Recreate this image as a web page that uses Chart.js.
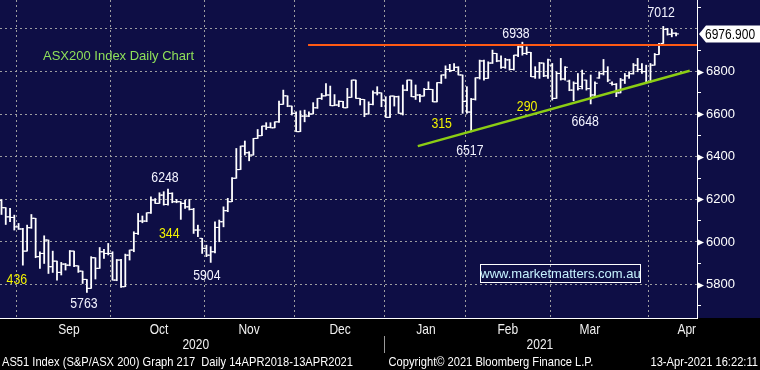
<!DOCTYPE html>
<html><head><meta charset="utf-8">
<script src="https://cdn.jsdelivr.net/npm/chart.js@4.4.1/dist/chart.umd.min.js"></script>
<style>
html,body{margin:0;padding:0;background:#000;}
#wrap{position:relative;width:760px;height:370px;}
</style></head><body>
<div id="wrap"><canvas id="c" width="760" height="370"></canvas></div>
<script>
// ---- data (ASX200 daily OHLC, 26 Aug 2020 .. 13 Apr 2021, trading-day index) ----
const barOpen = [
6195,6161,6118,6115,6071,6061,5957,6067,6111,5931,
5946,6009,5884,5910,5857,5896,5891,5957,5888,5863,
5824,5782,5926,5876,5954,5946,5946,5821,5915,5790,
5938,5962,6040,6098,6098,6137,6197,6181,6220,6176,
6228,6189,6189,6181,6165,6153,6056,6017,5970,5938,
5954,6068,6095,6147,6189,6299,6340,6450,6419,6408,
6486,6499,6544,6538,6536,6564,6646,6686,6638,6604,
6518,6591,6591,6601,6630,6674,6686,6690,6640,6643,
6660,6630,6679,6760,6674,6669,6601,6646,6700,6700,
6666,6585,6685,6682,6604,6713,6760,6682,6690,6685,
6716,6716,6658,6748,6784,6810,6805,6820,6784,6660,
6610,6670,6771,6850,6768,6840,6885,6850,6820,6855,
6810,6877,6916,6885,6890,6776,6800,6840,6780,6830,
6674,6791,6765,6755,6713,6745,6730,6760,6720,6690,
6770,6790,6800,6745,6740,6700,6760,6780,6790,6830,
6810,6800,6750,6830,6880,6932,6998,6975,6980];
const barHigh = [
6199,6161,6158,6126,6087,6064,6079,6129,6111,5954,
6029,6009,5957,5910,5904,5899,5960,5957,5888,5863,
5824,5931,5926,5974,5965,5993,5954,5918,5918,5943,
5962,6048,6134,6122,6137,6212,6204,6231,6236,6248,
6231,6200,6189,6197,6200,6158,6079,6017,5985,5978,
6095,6103,6165,6205,6302,6439,6450,6474,6424,6486,
6528,6544,6560,6560,6564,6662,6713,6686,6638,6611,
6616,6619,6611,6654,6674,6697,6744,6732,6692,6663,
6660,6721,6760,6760,6674,6669,6658,6710,6729,6700,
6682,6685,6685,6685,6737,6760,6760,6737,6693,6721,
6752,6716,6748,6784,6827,6834,6838,6823,6784,6729,
6674,6771,6854,6854,6846,6901,6885,6874,6862,6858,
6877,6924,6938,6916,6890,6823,6843,6840,6859,6838,
6799,6862,6823,6760,6752,6791,6807,6760,6784,6752,
6799,6857,6823,6752,6744,6768,6791,6799,6838,6862,
6838,6830,6838,6885,6932,7012,7003,6998,6982];
const barLow = [
6129,6082,6095,6056,6059,5891,5957,6064,5926,5876,
5899,5852,5857,5821,5845,5868,5888,5884,5857,5805,
5763,5782,5826,5876,5923,5939,5821,5818,5787,5790,
5915,5954,6035,6090,6095,6134,6181,6181,6173,6173,
6184,6184,6106,6158,6150,6040,6025,5946,5931,5904,
5949,6001,6071,6142,6189,6299,6340,6408,6381,6408,
6486,6499,6528,6536,6536,6561,6646,6635,6596,6518,
6518,6564,6588,6601,6627,6669,6686,6640,6640,6635,
6630,6630,6679,6674,6643,6588,6600,6643,6690,6635,
6585,6585,6638,6604,6596,6710,6682,6669,6658,6685,
6716,6658,6658,6744,6768,6799,6804,6784,6604,6604,
6517,6666,6765,6760,6768,6838,6846,6815,6815,6807,
6807,6870,6877,6880,6776,6768,6768,6776,6768,6666,
6674,6760,6760,6710,6663,6713,6718,6713,6648,6682,
6768,6784,6752,6736,6682,6700,6744,6768,6788,6799,
6791,6744,6750,6830,6880,6932,6971,6963,6967];
const barClose = [
6161,6118,6115,6071,6061,5957,6067,6111,5931,5946,
6009,5884,5910,5857,5896,5891,5957,5888,5863,5824,
5782,5926,5876,5954,5946,5946,5821,5915,5790,5938,
5962,6040,6098,6098,6137,6197,6181,6220,6176,6228,
6189,6189,6181,6165,6153,6056,6056,5970,5938,5954,
6068,6095,6147,6189,6299,6340,6450,6419,6408,6486,
6499,6544,6538,6536,6564,6646,6686,6638,6604,6518,
6591,6591,6601,6630,6674,6686,6690,6640,6643,6660,
6630,6679,6760,6674,6669,6601,6646,6700,6700,6666,
6585,6685,6682,6604,6713,6760,6682,6690,6685,6716,
6716,6658,6748,6784,6810,6805,6820,6784,6660,6610,
6670,6771,6850,6768,6840,6885,6850,6820,6855,6810,
6877,6916,6885,6890,6776,6800,6840,6780,6855,6674,
6791,6765,6820,6713,6745,6720,6790,6720,6690,6745,
6790,6800,6760,6740,6700,6760,6780,6790,6830,6810,
6800,6750,6830,6880,6925,6998,6975,6980,6976.9];

const monthNames    = ['Sep','Oct','Nov','Dec','Jan','Feb','Mar','Apr'];
const monthStartIdx = [4, 26, 48, 69, 90, 109, 129, 152];
const yearNames     = ['2020','2021'];
const yTickLabels   = [5800, 6000, 6200, 6400, 6600, 6800];
const resistanceLevel = 6925;
const trendFrom = [97.5, 6450];
const trendTo   = [161.2, 6804];
const lastPrice = 6976.9;

// text annotations: [text, bar index, value, kind]
const annoText = ['436','344','315','290','5763','6248','5904','6517','6938','6648','7012'];
const annoIdx  = [3.6, 39.3, 103.1, 123.1, 19.3, 38.3, 48.1, 109.7, 120.5, 136.7, 154.5];
const annoVal  = [5826, 6044, 6560, 6641, 5715, 6306, 5845, 6431, 6981, 6568, 7079];
const annoKind = ['r','r','r','r','p','p','p','p','p','p','p'];

// ---- layout / style ----
const NAVY = '#0e0e45';
const GRID = 'rgba(165,165,165,0.95)';
const SANS = "'Liberation Sans',Arial,sans-serif";
const NARROW_X = 0.84;
const X_MIN = -0.35, X_MAX = 162.9, Y_MIN = 5643, Y_MAX = 7136;
const monthLabelPos = [15.8, 36.9, 58.0, 79.3, 99.4, 118.6, 137.8, 160.5];
const yearLabelPos = [45.5, 126.1];

const ohlcBars = barLow.map((l, i) => ({x: i, y: [l, barHigh[i]]}));
const openTicks = barOpen.map((o, i) => ({x: i - 0.33, y: o}));
const closeTicks = barClose.map((c, i) => ({x: i + 0.33, y: c}));

function zeroPad(s){ s.paddingTop=0; s.paddingBottom=0; s.paddingLeft=0; s.paddingRight=0; }
function narrowText(ctx, text, x, y, align, sx) {
  ctx.save();
  ctx.translate(x, y);
  ctx.scale(sx || NARROW_X, 1);
  ctx.textAlign = align;
  ctx.fillText(text, 0, 0);
  ctx.restore();
}

const bgPlugin = {
  id: 'bg',
  beforeDraw(chart) {
    const {ctx, chartArea} = chart;
    ctx.save();
    ctx.fillStyle = '#000';
    ctx.fillRect(0, 0, chart.width, chart.height);
    ctx.fillStyle = NAVY;
    ctx.fillRect(0, 0, chart.width, chartArea.bottom);
    ctx.restore();
  }
};

const overlayPlugin = {
  id: 'overlay',
  afterDraw(chart) {
    const {ctx, chartArea} = chart;
    const xs = chart.scales.x, ys = chart.scales.y;
    ctx.save();
    // y-axis major triangles
    ctx.fillStyle = '#fff';
    yTickLabels.forEach(v => {
      const py = Math.round(ys.getPixelForValue(v)) + 0.5;
      ctx.beginPath();
      ctx.moveTo(chartArea.right, py - 3.5);
      ctx.lineTo(chartArea.right + 7, py);
      ctx.lineTo(chartArea.right, py + 3.5);
      ctx.closePath();
      ctx.fill();
    });
    // last price tag
    const ly = ys.getPixelForValue(lastPrice);
    const L = chartArea.right + 2;
    ctx.beginPath();
    ctx.moveTo(L, ly);
    ctx.lineTo(L + 7, ly - 8.5);
    ctx.lineTo(chart.width, ly - 8.5);
    ctx.lineTo(chart.width, ly + 8.5);
    ctx.lineTo(L + 7, ly + 8.5);
    ctx.closePath();
    ctx.fillStyle = '#fff';
    ctx.fill();
    ctx.fillStyle = '#000';
    ctx.font = "15px " + SANS;
    ctx.textBaseline = 'middle';
    narrowText(ctx, lastPrice.toFixed(3), L + 6, ly + 1, 'left', 0.8);

    // annotations
    ctx.textBaseline = 'middle';
    ctx.font = "15px " + SANS;
    annoText.forEach((t, i) => {
      ctx.fillStyle = annoKind[i] === 'r' ? '#f2f200' : '#f4f4ff';
      narrowText(ctx, t, xs.getPixelForValue(annoIdx[i]), ys.getPixelForValue(annoVal[i]) + 1, 'center', 0.82);
    });

    // chart title
    ctx.fillStyle = '#8fe05a';
    ctx.font = "13px " + SANS;
    ctx.textAlign = 'left';
    ctx.fillText('ASX200 Index Daily Chart', 43, 56);

    // website box
    ctx.strokeStyle = '#fff';
    ctx.lineWidth = 1;
    ctx.strokeRect(480.5, 264.5, 160, 18);
    ctx.fillStyle = '#c6f2ff';
    ctx.textAlign = 'center';
    ctx.font = "13px " + SANS;
    ctx.fillText('www.marketmatters.com.au', 560.5, 274);

    // month and year labels (through the x scale)
    ctx.fillStyle = '#f0f0f0';
    ctx.font = "15px " + SANS;
    ctx.textBaseline = 'middle';
    monthNames.forEach((m, i) => narrowText(ctx, m, xs.getPixelForValue(monthLabelPos[i]), 330, 'center', 0.8));
    yearNames.forEach((y, i) => narrowText(ctx, y, xs.getPixelForValue(yearLabelPos[i]), 345, 'center', 0.8));

    // year separator
    const sx = Math.round(xs.getPixelForValue(monthStartIdx[4] - 0.4)) + 0.5;
    ctx.strokeStyle = '#9a9a9a';
    ctx.beginPath();
    ctx.moveTo(sx, 336); ctx.lineTo(sx, 353);
    ctx.stroke();

    // footer
    ctx.fillStyle = '#fff';
    ctx.font = "13px " + SANS;
    ctx.textBaseline = 'alphabetic';
    const f1 = 'AS51 Index (S&P/ASX 200) Graph 217  Daily 14APR2018-13APR2021';
    const k = 351 / ctx.measureText(f1).width;
    narrowText(ctx, f1, 2, 366, 'left', k);
    narrowText(ctx, 'Copyright\u00A9 2021 Bloomberg Finance L.P.', 491, 366, 'center', k);
    narrowText(ctx, '13-Apr-2021 16:22:11', 758, 366, 'right', k);
    ctx.restore();
  }
};

new Chart(document.getElementById('c'), {
  data: {
    datasets: [
      {type: 'line', data: [{x: 71.8, y: resistanceLevel}, {x: X_MAX, y: resistanceLevel}],
       borderColor: '#ff5a14', borderWidth: 2, pointRadius: 0, order: 0},
      {type: 'line', data: [{x: trendFrom[0], y: trendFrom[1]}, {x: trendTo[0], y: trendTo[1]}],
       borderColor: '#8ccd14', borderWidth: 2.5, pointRadius: 0, order: 0},
      {type: 'bar', data: ohlcBars, backgroundColor: '#ffffff', barThickness: 1.15,
       grouped: false, order: 2},
      {type: 'line', showLine: false, data: openTicks, pointStyle: 'line', pointRadius: 1.35,
       pointBorderColor: '#fff', pointBorderWidth: 1.1, order: 1},
      {type: 'line', showLine: false, data: closeTicks, pointStyle: 'line', pointRadius: 1.35,
       pointBorderColor: '#fff', pointBorderWidth: 1.1, order: 1}
    ]
  },
  options: {
    responsive: false,
    animation: false,
    events: [],
    layout: {autoPadding: false, padding: {top: 0, left: 0, right: 0, bottom: 52}},
    plugins: {legend: {display: false}, tooltip: {enabled: false}},
    scales: {
      x: {
        type: 'linear', min: X_MIN, max: X_MAX, position: 'bottom', offset: false,
        afterBuildTicks: s => { s.ticks = monthStartIdx.map(v => ({value: v - 0.4})); },
        ticks: {display: false},
        grid: {color: GRID, drawTicks: false, lineWidth: 1, offset: false},
        border: {display: true, color: '#ffffff', width: 1, dash: [2, 3]},
        afterFit: s => { s.height = 0; zeroPad(s); }
      },
      y: {
        type: 'linear', position: 'right', min: Y_MIN, max: Y_MAX,
        afterBuildTicks: s => { const t = []; for (let v = 5700; v <= 7100; v += 100) t.push({value: v}); s.ticks = t; },
        ticks: {padding: 5, color: '#ffffff', font: {family: SANS, size: 13},
                callback: v => yTickLabels.includes(v) ? String(v) : ''},
        grid: {
          color: c => (c.tick && c.tick.value % 200 === 0) ? GRID : 'rgba(0,0,0,0)',
          tickColor: c => (c.tick && c.tick.value % 200 === 0) ? 'rgba(0,0,0,0)' : '#ffffff',
          tickLength: 4, drawTicks: true, lineWidth: 1
        },
        border: {display: true, color: '#ffffff', width: 1, dash: [2, 3]},
        afterFit: s => { s.width = 63; zeroPad(s); }
      }
    }
  },
  plugins: [bgPlugin, overlayPlugin]
});
</script>
</body></html>
